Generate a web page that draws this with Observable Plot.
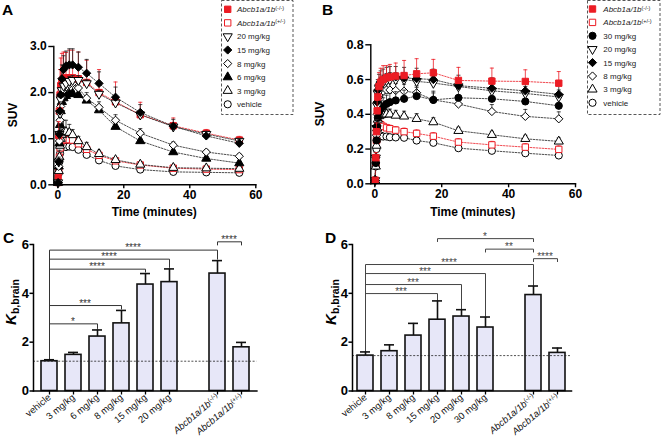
<!DOCTYPE html>
<html><head><meta charset="utf-8">
<script src="https://cdn.jsdelivr.net/npm/d3@7"></script>
<script src="https://cdn.jsdelivr.net/npm/@observablehq/plot@0.6"></script>
<style>
html,body{margin:0;padding:0;background:#fff;}
#root{position:relative;width:661px;height:437px;overflow:hidden;background:#fff;}
#root > svg{position:absolute;overflow:visible;}
</style></head><body><div id="root"></div>
<script>
// ---------------- DATA ----------------
const times = [0.1,0.3,0.5,0.7,0.9,1.25,1.75,2.5,3.5,4.5,6.25,8.75,12.5,17.5,25,35,45,55];

// Panel A (SUV)
const namesA = ["Abcb1a/1b(-/-)","Abcb1a/1b(+/-)","20 mg/kg","15 mg/kg","8 mg/kg","6 mg/kg","3 mg/kg","vehicle"];
const suvA_KO  = [0.15,1.07,1.6,1.95,2.15,2.25,2.3,2.32,2.32,2.32,2.3,2.22,2.0,1.8,1.52,1.28,1.12,0.97];
const errA_KO  = [0.05,0.3,0.45,0.55,0.6,0.6,0.58,0.55,0.6,0.6,0.58,0.48,0.5,0.43,0.27,0.17,0.08,0.08];
const suvA_HET = [0.05,0.3,0.6,0.8,0.92,0.97,0.98,0.98,0.98,0.97,0.89,0.77,0.64,0.52,0.43,0.36,0.34,0.33];
const errA_HET = [0.02,0.05,0.08,0.1,0.1,0.1,0.1,0.1,0.1,0.1,0.08,0.07,0.06,0.05,0.04,0.03,0.03,0.03];
const suvA_20  = [0.05,0.5,1.1,1.55,1.85,2.05,2.15,2.2,2.25,2.27,2.27,2.2,1.97,1.78,1.52,1.26,1.1,0.95];
const errA_20  = [0.02,0.05,0.08,0.1,0.1,0.1,0.1,0.1,0.1,0.1,0.1,0.08,0.08,0.07,0.06,0.05,0.04,0.04];
const suvA_15  = [0.05,0.5,1.1,1.6,1.95,2.3,2.5,2.58,2.6,2.6,2.55,2.42,2.2,1.9,1.57,1.27,1.06,0.9];
const errA_15  = [0.03,0.1,0.15,0.2,0.25,0.3,0.3,0.32,0.35,0.35,0.33,0.3,0.25,0.22,0.17,0.15,0.1,0.08];
const suvA_8   = [0.05,0.4,0.95,1.4,1.7,1.9,2.05,2.12,2.18,2.2,2.1,1.88,1.68,1.4,1.12,0.86,0.71,0.62];
const errA_8   = [0.02,0.04,0.06,0.08,0.1,0.1,0.1,0.1,0.1,0.1,0.1,0.12,0.12,0.12,0.1,0.07,0.05,0.05];
const suvA_6   = [0.05,0.4,0.9,1.3,1.6,1.8,1.88,1.93,1.97,1.98,1.95,1.83,1.62,1.26,0.95,0.71,0.57,0.47];
const errA_6   = [0.02,0.04,0.05,0.06,0.06,0.06,0.06,0.06,0.06,0.06,0.06,0.06,0.06,0.06,0.05,0.05,0.04,0.04];
const suvA_3   = [0.05,0.3,0.6,0.85,1.0,1.08,1.12,1.15,1.13,1.08,0.95,0.82,0.67,0.54,0.44,0.37,0.36,0.35];
const errA_3   = [0.02,0.08,0.15,0.2,0.25,0.3,0.28,0.25,0.18,0.12,0.1,0.1,0.08,0.05,0.04,0.03,0.03,0.03];
const suvA_veh = [0.05,0.25,0.5,0.68,0.78,0.82,0.83,0.82,0.83,0.82,0.76,0.65,0.53,0.41,0.33,0.28,0.27,0.26];
const errA_veh = [0.01,0.02,0.03,0.03,0.03,0.03,0.03,0.03,0.03,0.03,0.03,0.03,0.03,0.03,0.03,0.02,0.02,0.02];

// Panel B (SUV)
const namesB = ["Abcb1a/1b(-/-)","Abcb1a/1b(+/-)","30 mg/kg","20 mg/kg","15 mg/kg","8 mg/kg","3 mg/kg","vehicle"];
const suvB_KO  = [0.02,0.15,0.3,0.42,0.5,0.56,0.585,0.6,0.61,0.615,0.62,0.623,0.633,0.639,0.595,0.591,0.589,0.579];
const errB_KO  = [0.01,0.03,0.05,0.06,0.07,0.08,0.08,0.08,0.07,0.072,0.075,0.087,0.087,0.077,0.075,0.075,0.067,0.067];
const suvB_HET = [0.02,0.12,0.25,0.32,0.35,0.345,0.34,0.33,0.322,0.317,0.309,0.3,0.29,0.274,0.24,0.224,0.211,0.198];
const errB_HET = [0.01,0.02,0.02,0.02,0.02,0.02,0.02,0.02,0.02,0.02,0.02,0.02,0.02,0.02,0.02,0.02,0.02,0.02];
const suvB_30  = [0.02,0.12,0.25,0.33,0.38,0.41,0.43,0.445,0.46,0.47,0.48,0.489,0.505,0.483,0.495,0.489,0.474,0.449];
const errB_30  = [0.01,0.03,0.04,0.05,0.05,0.05,0.05,0.05,0.05,0.05,0.05,0.05,0.05,0.05,0.05,0.05,0.05,0.05];
const suvB_20  = [0.02,0.15,0.32,0.45,0.52,0.55,0.57,0.585,0.595,0.6,0.6,0.6,0.59,0.58,0.56,0.535,0.52,0.5];
const errB_20  = [0.01,0.02,0.03,0.04,0.04,0.04,0.04,0.04,0.04,0.04,0.04,0.04,0.04,0.04,0.04,0.04,0.04,0.04];
const suvB_15  = [0.02,0.15,0.33,0.47,0.54,0.57,0.59,0.6,0.61,0.615,0.615,0.61,0.605,0.6,0.565,0.55,0.535,0.515];
const errB_15  = [0.01,0.03,0.04,0.05,0.06,0.06,0.06,0.06,0.06,0.06,0.06,0.06,0.06,0.06,0.06,0.06,0.06,0.06];
const suvB_8   = [0.02,0.12,0.28,0.4,0.47,0.5,0.52,0.533,0.54,0.54,0.537,0.533,0.524,0.483,0.459,0.416,0.388,0.374];
const errB_8   = [0.01,0.02,0.03,0.04,0.04,0.04,0.04,0.04,0.04,0.04,0.04,0.04,0.04,0.04,0.04,0.04,0.04,0.04];
const suvB_3   = [0.02,0.1,0.22,0.32,0.37,0.39,0.395,0.4,0.4,0.4,0.393,0.388,0.374,0.355,0.305,0.282,0.259,0.244];
const errB_3   = [0.005,0.01,0.02,0.02,0.03,0.03,0.03,0.03,0.03,0.03,0.03,0.03,0.03,0.025,0.02,0.02,0.02,0.02];
const suvB_veh = [0.02,0.1,0.2,0.25,0.27,0.278,0.278,0.272,0.272,0.268,0.267,0.265,0.249,0.236,0.205,0.19,0.176,0.163];
const errB_veh = [0.005,0.01,0.01,0.01,0.01,0.01,0.01,0.01,0.01,0.01,0.01,0.01,0.01,0.01,0.01,0.01,0.01,0.01];

// Panel C (Kb,brain)
const catsC   = ["vehicle","3 mg/kg","6 mg/kg","8 mg/kg","15 mg/kg","20 mg/kg","","Abcb1a/1b(-/-)","Abcb1a/1b(+/-)"];
const groupsC = ["vehicle","3 mg/kg","6 mg/kg","8 mg/kg","15 mg/kg","20 mg/kg","Abcb1a/1b(-/-)","Abcb1a/1b(+/-)"];
const kbC     = [1.22,1.48,2.23,2.77,4.36,4.46,4.81,1.79];
const kbC_hi  = [1.28,1.58,2.5,3.3,4.81,5.0,5.34,1.99];
const brFromC = ["vehicle","vehicle","vehicle","vehicle","vehicle","Abcb1a/1b(-/-)"];
const brToC   = ["6 mg/kg","8 mg/kg","15 mg/kg","20 mg/kg","Abcb1a/1b(-/-)","Abcb1a/1b(+/-)"];
const brYC    = [2.75,3.5,4.99,5.4,5.77,6.11];
const brLoFromC = [1.34,1.34,1.34,1.34,1.34,5.98];
const brLoToC   = [2.56,3.36,4.87,5.06,5.4,5.98];
const brLabC  = ["*","***","****","****","****","****"];

// Panel D (Kb,brain)
const catsD   = ["vehicle","3 mg/kg","8 mg/kg","15 mg/kg","20 mg/kg","30 mg/kg","","Abcb1a/1b(-/-)","Abcb1a/1b(+/-)"];
const groupsD = ["vehicle","3 mg/kg","8 mg/kg","15 mg/kg","20 mg/kg","30 mg/kg","Abcb1a/1b(-/-)","Abcb1a/1b(+/-)"];
const kbD     = [1.45,1.63,2.27,2.92,3.05,2.6,3.93,1.56];
const kbD_hi  = [1.6,1.89,2.77,3.69,3.33,3.03,4.3,1.76];
const brFromD = ["vehicle","vehicle","vehicle","vehicle","Abcb1a/1b(-/-)","30 mg/kg","15 mg/kg"];
const brToD   = ["15 mg/kg","20 mg/kg","30 mg/kg","Abcb1a/1b(-/-)","Abcb1a/1b(+/-)","Abcb1a/1b(-/-)","Abcb1a/1b(-/-)"];
const brYD    = [3.99,4.36,4.81,5.18,5.42,5.81,6.24];
const brLoFromD = [1.64,1.64,1.64,1.64,5.3,5.69,6.12];
const brLoToD   = [3.73,3.37,3.07,4.34,5.3,5.69,6.12];
const brLabD  = ["***","***","***","****","****","**","*"];

// ---------------- STYLE ----------------
const FONT = '"Liberation Sans", Arial, Helvetica, sans-serif';
const RED = "#ec1c24";
const triDown = {draw(ctx, size){const y=-Math.sqrt(size/(Math.sqrt(3)*3)); ctx.moveTo(0,-2*y); ctx.lineTo(-Math.sqrt(3)*y, y); ctx.lineTo(Math.sqrt(3)*y, y); ctx.closePath();}};
const capSym = {draw(ctx, size){const w=Math.sqrt(size)/2; ctx.moveTo(-w,0); ctx.lineTo(w,0);}};
const styles = {
  "Abcb1a/1b(-/-)": {symbol:d3.symbolSquare, fill:RED, stroke:RED, line:RED, r:3.6},
  "Abcb1a/1b(+/-)": {symbol:d3.symbolSquare, fill:"white", stroke:RED, line:RED, r:3.6},
  "30 mg/kg": {symbol:d3.symbolCircle, fill:"black", stroke:"black", line:"#222", r:3.6},
  "20 mg/kg": {symbol:triDown, fill:"white", stroke:"black", line:"#222", r:3.4},
  "15 mg/kg": {symbol:d3.symbolDiamond2, fill:"black", stroke:"black", line:"#222", r:3.7},
  "8 mg/kg":  {symbol:d3.symbolDiamond2, fill:"white", stroke:"black", line:"#222", r:3.7},
  "6 mg/kg":  {symbol:d3.symbolTriangle, fill:"black", stroke:"black", line:"#222", r:3.4},
  "3 mg/kg":  {symbol:d3.symbolTriangle, fill:"white", stroke:"black", line:"#222", r:3.4},
  "vehicle":  {symbol:d3.symbolCircle, fill:"white", stroke:"black", line:"#222", r:3.6}
};

const root = document.getElementById("root");
function place(node, left, top){ node.style.left = left+"px"; node.style.top = top+"px"; root.appendChild(node); }
function richText(sel, s){
  const m = s.match(/^(Abcb1a\/1b)(\(.*\))$/);
  if(!m){ sel.text(s); return; }
  sel.text(null);
  sel.append("tspan").attr("font-style","italic").text(m[1]);
  sel.append("tspan").attr("dy","-0.45em").attr("font-size","0.68em").text(m[2]);
}

// ---------------- TIME-ACTIVITY PANELS ----------------
function timePlot({names, vals, errs, order, yDomain, yTicks, fontSize, width, height, mL, mR, mT, mB}){
  const rows = names.map((n,i)=> times.map((t,j)=>({series:n, t, v:vals[i][j], hi:vals[i][j]+errs[i][j]})));
  const marks = [];
  order.forEach(i=>{ const st=styles[names[i]];
    marks.push(Plot.line(rows[i], {x:"t", y:"v", stroke:st.line, strokeWidth:0.8, strokeDasharray:"1.6,1.4"}));
  });
  order.forEach(i=>{ const st=styles[names[i]];
    marks.push(Plot.ruleX(rows[i], {x:"t", y1:"v", y2:"hi", stroke:st.line, strokeWidth:0.8}));
    marks.push(Plot.dot(rows[i], {x:"t", y:"hi", symbol:capSym, r:2.3, stroke:st.line, strokeWidth:0.8}));
    marks.push(Plot.dot(rows[i], {x:"t", y:"v", symbol:st.symbol, r:st.r, fill:st.fill, stroke:st.stroke, strokeWidth:1}));
  });
  marks.push(Plot.frame({anchor:"left", strokeWidth:1.4}));
  marks.push(Plot.frame({anchor:"bottom", strokeWidth:1.4}));
  marks.push(Plot.axisX({ticks:[0,20,40,60], tickSize:4, tickPadding:2, fontSize:12, fontWeight:"bold", strokeWidth:1.4, label:null}));
  marks.push(Plot.axisY({ticks:yTicks, tickFormat:d3.format(".1f"), tickSize:5, tickPadding:2, fontSize, fontWeight:"bold", strokeWidth:1.4, label:null}));
  return Plot.plot({width, height, marginLeft:mL, marginRight:mR, marginTop:mT, marginBottom:mB,
    x:{domain:[-1.2,60]}, y:{domain:yDomain},
    style:{fontFamily:FONT, background:"transparent", color:"black", overflow:"visible"}, marks});
}

const plotA = timePlot({names:namesA,
  vals:[suvA_KO,suvA_HET,suvA_20,suvA_15,suvA_8,suvA_6,suvA_3,suvA_veh],
  errs:[errA_KO,errA_HET,errA_20,errA_15,errA_8,errA_6,errA_3,errA_veh],
  order:[7,1,6,5,4,0,2,3], yDomain:[0,3], yTicks:[0,1,2,3], fontSize:12,
  width:330, height:220, mL:53.3, mR:74.7, mT:46, mB:35.7});
place(plotA, 0, 0);

const plotB = timePlot({names:namesB,
  vals:[suvB_KO,suvB_HET,suvB_30,suvB_20,suvB_15,suvB_8,suvB_3,suvB_veh],
  errs:[errB_KO,errB_HET,errB_30,errB_20,errB_15,errB_8,errB_3,errB_veh],
  order:[7,1,6,5,2,3,4,0], yDomain:[0,0.8], yTicks:[0,0.2,0.4,0.6,0.8], fontSize:12.5,
  width:331, height:220, mL:40.3, mR:86, mT:44.3, mB:36.7});
place(plotB, 330, 0);

// ---------------- BAR PANELS ----------------
function barPlot({cats, groups, kb, hi, brFrom, brTo, brY, brLoFrom, brLoTo, brLab, brColor, width, mL, mR, pOuter}){
  const rows = groups.map((g,i)=>({g, kb:kb[i], hi:hi[i]}));
  const brRows = [];
  brFrom.forEach((f,i)=>{
    brRows.push({id:i, x:f, y:brLoFrom[i]}, {id:i, x:f, y:brY[i]}, {id:i, x:brTo[i], y:brY[i]}, {id:i, x:brTo[i], y:brLoTo[i]});
  });
  const plot = Plot.plot({width, height:217, marginLeft:mL, marginRight:mR, marginTop:24, marginBottom:46.5,
    x:{type:"band", domain:cats, paddingInner:0.33, paddingOuter:pOuter, align:0.5},
    y:{domain:[0,6]},
    style:{fontFamily:FONT, background:"transparent", color:"black", overflow:"visible"},
    marks:[
      Plot.line(brRows, {x:"x", y:"y", z:"id", stroke:brColor, strokeWidth:1}),
      Plot.ruleX(rows, {x:"g", y1:"kb", y2:"hi", stroke:"#111", strokeWidth:1.6}),
      Plot.tickY(rows, {x:"g", y:"hi", stroke:"#111", strokeWidth:1.6, insetLeft:3, insetRight:3}),
      Plot.barY(rows, {x:"g", y:"kb", fill:"#e7e7f8", stroke:"#111", strokeWidth:1.6}),
      Plot.ruleY([kb[0]], {stroke:"#222", strokeWidth:0.8, strokeDasharray:"2,1.6"}),
      Plot.frame({anchor:"left", strokeWidth:1.5}),
      Plot.frame({anchor:"bottom", strokeWidth:1.5}),
      Plot.axisX({ticks:groups, tickSize:4, tickPadding:1, tickRotate:-40, fontSize:9.5, fill:"#111", strokeWidth:1.3, label:null}),
      Plot.axisY({ticks:[0,2,4,6], tickFormat:d3.format("d"), tickSize:3.5, tickPadding:1, fontSize:13, fontWeight:"bold", strokeWidth:1.5, label:null})
    ]});
  // rich tick labels
  d3.select(plot).selectAll('g[aria-label="x-axis tick label"] text').each(function(){
    const s = this.textContent; if(/^Abcb/.test(s)) richText(d3.select(this), s);
  });
  // bracket labels at bracket midpoints, positioned through the plot's own scales
  const sx = plot.scale("x"), sy = plot.scale("y");
  const bw = sx.bandwidth || 0;
  const g = d3.select(plot).append("g").attr("font-family", FONT).attr("font-size", 10).attr("text-anchor","middle");
  brFrom.forEach((f,i)=>{
    const x = (sx.apply(f) + sx.apply(brTo[i]))/2 + bw/2;
    g.append("text").attr("x", x).attr("y", sy.apply(brY[i]) + 1.5).attr("fill", brColor).text(brLab[i]);
  });
  return plot;
}

const plotC = barPlot({cats:catsC, groups:groupsC, kb:kbC, hi:kbC_hi, brFrom:brFromC, brTo:brToC, brY:brYC,
  brLoFrom:brLoFromC, brLoTo:brLoToC, brLab:brLabC, brColor:"#333", width:330, mL:33, mR:73.6, pOuter:0.262});
place(plotC, 0, 220);
const plotD = barPlot({cats:catsD, groups:groupsD, kb:kbD, hi:kbD_hi, brFrom:brFromD, brTo:brToD, brY:brYD,
  brLoFrom:brLoFromD, brLoTo:brLoToD, brLab:brLabD, brColor:"#444", width:331, mL:22, mR:90, pOuter:0.171});
place(plotD, 330, 220);

// ---------------- OVERLAY: letters, titles, legends ----------------
const ov = d3.create("svg").attr("width",661).attr("height",437).attr("font-family",FONT).style("pointer-events","none");
[["A",2,15],["B",322,15],["C",3,243],["D",325,243]].forEach(([t,x,y])=>
  ov.append("text").attr("x",x).attr("y",y).attr("font-size",15.5).attr("font-weight","bold").text(t));
[[154.3,216.3],[472.7,216.3]].forEach(([x,y])=>
  ov.append("text").attr("x",x).attr("y",y).attr("text-anchor","middle").attr("font-size",12).attr("font-weight","bold").text("Time (minutes)"));
[[16.8,115],[324.3,114]].forEach(([x,y])=>
  ov.append("text").attr("transform",`translate(${x},${y}) rotate(-90)`).attr("text-anchor","middle").attr("font-size",12).attr("font-weight","bold").text("SUV"));
[[15.5,302],[336,302]].forEach(([x,y])=>{
  const t = ov.append("text").attr("transform",`translate(${x},${y}) rotate(-90)`).attr("text-anchor","middle").attr("font-weight","bold");
  t.append("tspan").attr("font-style","italic").attr("font-size",15).text("K");
  t.append("tspan").attr("font-size",10.5).attr("dy",3).text("b,brain");
});
function drawLegend(box, names, symX, textX, y0, step){
  ov.append("rect").attr("x",box[0]).attr("y",box[1]).attr("width",box[2]).attr("height",box[3])
    .attr("fill","white").attr("stroke","#444").attr("stroke-width",0.9).attr("stroke-dasharray","3,2");
  names.forEach((n,i)=>{
    const st = styles[n], cy = y0 + i*step;
    ov.append("path").attr("transform",`translate(${symX},${cy})`)
      .attr("d", d3.symbol(st.symbol, Math.PI*st.r*st.r)()).attr("fill",st.fill).attr("stroke",st.stroke).attr("stroke-width",1);
    const t = ov.append("text").attr("x",textX).attr("y",cy+3).attr("font-size",8).attr("fill","#222");
    richText(t, n);
  });
}
drawLegend([221.5,0.5,71.5,114], namesA, 227.7, 237, 9.3, 13.57);
drawLegend([587.5,0.5,72.5,114], namesB, 592.5, 603.3, 9, 13.4);
place(ov.node(), 0, 0);
</script></body></html>
